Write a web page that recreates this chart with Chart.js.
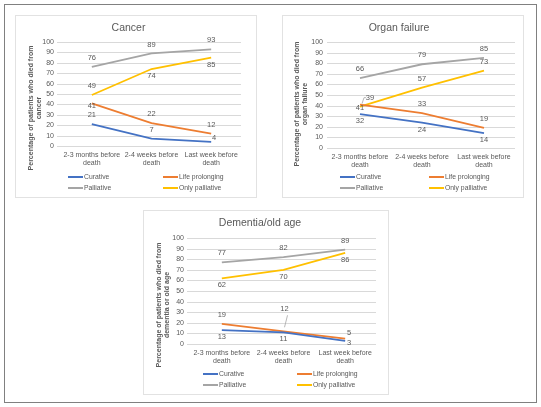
<!DOCTYPE html>
<html>
<head>
<meta charset="utf-8">
<script src="https://cdn.jsdelivr.net/npm/chart.js@4.4.1/dist/chart.umd.min.js"></script>
<style>
body { margin: 0; background: #fff; }
#frame { position: absolute; left: 4px; top: 4px; width: 533px; height: 399px; border: 1px solid #808080; box-sizing: border-box; }
.panel { position: absolute; border: 1px solid #e2e2e2; box-sizing: border-box; background: #fff; }
canvas { position: absolute; left: 0; top: 0; }
</style>
</head>
<body>
<div id="frame"></div>
<div class="panel" style="left:15px;top:15px;width:242px;height:183px"><canvas id="cancer" width="240" height="181"></canvas></div>
<div class="panel" style="left:282px;top:15px;width:242px;height:183px"><canvas id="organ" width="240" height="181"></canvas></div>
<div class="panel" style="left:143px;top:210px;width:246px;height:185px"><canvas id="dementia" width="244" height="183"></canvas></div>
<script>
// categorias y series
const categories = [["2-3 months before", "death"], ["2-4 weeks before", "death"], ["Last week before", "death"]];
const seriesNames = ["Curative", "Life prolonging", "Palliative", "Only palliative"];
const seriesColors = ["#4472C4", "#ED7D31", "#A5A5A5", "#FFC000"];
const yTicks = [0, 10, 20, 30, 40, 50, 60, 70, 80, 90, 100];

// Cancer
const cancerCurative = [21, 7, 4];
const cancerLifeProlonging = [41, 22, 12];
const cancerPalliative = [76, 89, 93];
const cancerOnlyPalliative = [49, 74, 85];

// Organ failure
const organCurative = [32, 24, 14];
const organLifeProlonging = [41, 33, 19];
const organPalliative = [66, 79, 85];
const organOnlyPalliative = [39, 57, 73];

// Dementia/old age
const dementiaCurative = [13, 11, 3];
const dementiaLifeProlonging = [19, 12, 5];
const dementiaPalliative = [77, 82, 89];
const dementiaOnlyPalliative = [62, 70, 86];

// donde va cada etiqueta respecto al punto (a = arriba, b = abajo, ...)
const offsets = {
    a: [0, -9], b: [0, 7], n: [0, 3], r: [3, -4], ra: [4, -6], rb: [4, 2],
    L: [10, -9, 'L'], U: [1, -22, 'U']
};

const txt = '#595959';
const fontFam = '"Liberation Sans", Arial, sans-serif';

const extras = {
    id: 'extras',
    beforeDatasetsDraw(chart) {
        // lineas de la cuadricula, un poco mas largas a la izquierda como en Excel
        const o = chart.options.plugins.extras;
        const ctx = chart.ctx;
        const area = chart.chartArea;
        const y = chart.scales.y;
        ctx.save();
        ctx.strokeStyle = '#d9d9d9';
        ctx.lineWidth = 1;
        yTicks.forEach(v => {
            const py = Math.round(y.getPixelForValue(v)) + 0.5;
            ctx.beginPath();
            ctx.moveTo(area.left - o.gridExt, py);
            ctx.lineTo(area.right, py);
            ctx.stroke();
        });
        ctx.restore();
    },
    afterDraw(chart) {
        const o = chart.options.plugins.extras;
        const ctx = chart.ctx;
        ctx.save();
        // etiquetas de datos
        ctx.font = '7.5px ' + fontFam;
        ctx.fillStyle = txt;
        ctx.textAlign = 'center';
        ctx.textBaseline = 'middle';
        chart.data.datasets.forEach((ds, i) => {
            chart.getDatasetMeta(i).data.forEach((pt, j) => {
                const d = offsets[o.labelPos[i][j]];
                ctx.fillText(ds.data[j], pt.x + d[0], pt.y + d[1]);
                if (d[2]) {
                    ctx.strokeStyle = '#a6a6a6';
                    ctx.lineWidth = 0.8;
                    ctx.beginPath();
                    if (d[2] === 'L') {
                        ctx.moveTo(pt.x + 2, pt.y - 3);
                        ctx.lineTo(pt.x + 4, pt.y - 9);
                        ctx.lineTo(pt.x + 6, pt.y - 9);
                    } else {
                        ctx.moveTo(pt.x + 1, pt.y - 4);
                        ctx.lineTo(pt.x + 4, pt.y - 16);
                    }
                    ctx.stroke();
                }
            });
        });
        // titulo eje Y
        ctx.font = 'bold 7px ' + fontFam;
        ctx.translate(o.yTitle.x, o.yTitle.y);
        ctx.rotate(-Math.PI / 2);
        o.yTitle.lines.forEach((t, k) => ctx.fillText(t, 0, k * 8.5));
        ctx.setTransform(1, 0, 0, 1, 0, 0);
        // leyenda
        ctx.font = '6.8px ' + fontFam;
        ctx.textAlign = 'left';
        chart.data.datasets.forEach((ds, i) => {
            const x = o.legend.cols[i % 2];
            const y = o.legend.rows[Math.floor(i / 2)];
            ctx.strokeStyle = ds.borderColor;
            ctx.lineWidth = 2;
            ctx.beginPath();
            ctx.moveTo(x, y);
            ctx.lineTo(x + 15, y);
            ctx.stroke();
            ctx.fillStyle = txt;
            ctx.fillText(ds.label, x + 16, y);
        });
        ctx.restore();
    }
};

function grafica(id, titulo, series, labelPos, geo) {
    new Chart(document.getElementById(id), {
        type: 'line',
        data: {
            labels: categories,
            datasets: series.map((s, i) => ({
                label: seriesNames[i],
                data: s,
                borderColor: seriesColors[i],
                backgroundColor: seriesColors[i],
                borderWidth: 1.8,
                pointRadius: 0,
                tension: 0
            }))
        },
        options: {
            responsive: false,
            animation: false,
            layout: { padding: { left: 0, right: geo.right, top: 0, bottom: 0 } },
            scales: {
                x: {
                    offset: true,
                    grid: { display: false, drawTicks: false },
                    border: { display: false },
                    ticks: { color: txt, font: { size: 7, family: fontFam, lineHeight: 1.15 }, maxRotation: 0, autoSkip: false, padding: 5 },
                    afterFit: s => { s.height = geo.xh; }
                },
                y: {
                    min: 0, max: 100,
                    afterBuildTicks: s => { s.ticks = yTicks.map(v => ({ value: v })); },
                    grid: { display: false, drawTicks: false },
                    border: { display: false },
                    ticks: { color: txt, font: { size: 7, family: fontFam }, padding: geo.tickPad, autoSkip: false },
                    afterFit: s => { s.width = geo.left; }
                }
            },
            plugins: {
                legend: { display: false },
                tooltip: { enabled: false },
                title: {
                    display: true, text: titulo, color: txt,
                    font: { size: 10.5, weight: 'normal', family: fontFam },
                    padding: { top: 6, bottom: geo.top - 6 - 12.6 }
                },
                extras: { labelPos: labelPos, yTitle: geo.yTitle, legend: geo.legend, gridExt: geo.gridExt }
            }
        },
        plugins: [extras]
    });
}

grafica('cancer', 'Cancer',
    [cancerCurative, cancerLifeProlonging, cancerPalliative, cancerOnlyPalliative],
    [['a', 'a', 'r'], ['n', 'a', 'a'], ['a', 'a', 'a'], ['a', 'b', 'b']],
    { left: 46, right: 15, top: 26, xh: 51, gridExt: 5, tickPad: 8,
      yTitle: { x: 15, y: 92, lines: ['Percentage of patients who died from', 'cancer'] },
      legend: { cols: [52, 147], rows: [161, 172] } });

grafica('organ', 'Organ failure',
    [organCurative, organLifeProlonging, organPalliative, organOnlyPalliative],
    [['b', 'b', 'b'], ['n', 'a', 'a'], ['a', 'a', 'a'], ['L', 'a', 'a']],
    { left: 46, right: 8, top: 26, xh: 49, gridExt: 2, tickPad: 6,
      yTitle: { x: 14, y: 88, lines: ['Percentage of patients who died from', 'organ failure'] },
      legend: { cols: [57, 146], rows: [161, 172] } });

grafica('dementia', 'Dementia/old age',
    [dementiaCurative, dementiaLifeProlonging, dementiaPalliative, dementiaOnlyPalliative],
    [['b', 'b', 'rb'], ['a', 'U', 'ra'], ['a', 'a', 'a'], ['b', 'b', 'b']],
    { left: 47, right: 12, top: 27, xh: 50, gridExt: 4, tickPad: 7,
      yTitle: { x: 15, y: 94, lines: ['Percentage of patients who died from', 'dementia or old age'] },
      legend: { cols: [59, 153], rows: [163, 174] } });
</script>
</body>
</html>
